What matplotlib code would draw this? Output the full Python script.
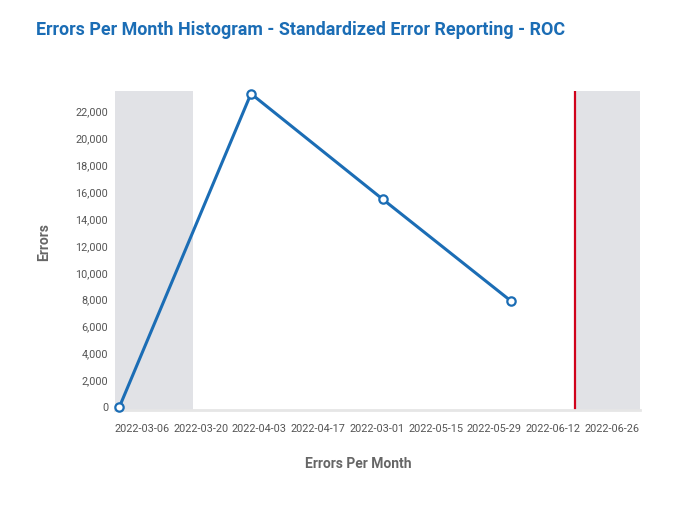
import matplotlib
matplotlib.use("Agg")
import matplotlib.pyplot as plt
import matplotlib.dates as mdates
from matplotlib.ticker import FuncFormatter
import numpy as np
from datetime import datetime

plt.rcParams['font.family'] = ['Roboto', 'DejaVu Sans']

# data (point dates as placed in the picture)
months = ["2022-02-28 14:00", "2022-04-01 00:00", "2022-05-02 10:00", "2022-06-02 00:00"]
errors = [0, 23300, 15460, 7900]

tick_dates = ["2022-03-06", "2022-03-20", "2022-04-03", "2022-04-17", "2022-05-01",
              "2022-05-15", "2022-05-29", "2022-06-12", "2022-06-26"]
tick_labels = ["2022-03-06", "2022-03-20", "2022-04-03", "2022-04-17", "2022-03-01",
               "2022-05-15", "2022-05-29", "2022-06-12", "2022-06-26"]

x_start = "2022-02-27 14:00"
x_end = "2022-07-02 18:00"
shade_left = ("2022-02-27 14:00", "2022-03-18 02:00")
shade_right = ("2022-06-17 05:00", "2022-07-02 18:00")
marker_date = "2022-06-17 05:00"

def d(s):
    return mdates.date2num(datetime.fromisoformat(s))

blue = "#1b6db5"
grey_txt = "#666666"

fig = plt.figure(figsize=(6.95, 5.09), dpi=100)
ax = fig.add_axes([115 / 695, 99 / 509, 525 / 695, 319 / 509])

ax.axvspan(d(shade_left[0]), d(shade_left[1]), color="#e1e2e6", lw=0, zorder=0)
ax.axvspan(d(shade_right[0]), d(shade_right[1]), color="#e1e2e6", lw=0, zorder=0)
ax.axvline(d(marker_date), color="#d0021b", lw=1.6, zorder=1)

xs = [d(m) for m in months]
ax.plot(xs, errors, color=blue, lw=2.2, marker="o", ms=6, mfc="white",
        mec=blue, mew=1.6, zorder=3, clip_on=False)

ax.set_xlim(d(x_start), d(x_end))
ax.set_ylim(-190, 23500)
ax.set_yticks(np.arange(0, 22001, 2000))
ax.yaxis.set_major_formatter(FuncFormatter(lambda v, p: f"{int(v):,}"))
ax.set_xticks([d(t) for t in tick_dates])
ax.set_xticklabels(tick_labels)

ax.tick_params(axis="both", length=0, labelsize=7.8, labelcolor="#555555")
ax.tick_params(axis="x", pad=10)
ax.tick_params(axis="y", pad=5)
for s in ["top", "right", "left"]:
    ax.spines[s].set_visible(False)
ax.spines["bottom"].set_color("#e6e6e6")
ax.spines["bottom"].set_linewidth(2)

fig.text(36 / 695, 1 - 30 / 509, "Errors Per Month Histogram - Standardized Error Reporting - ROC",
         fontsize=12.9, fontweight="bold", color=blue, va="center", ha="left")
fig.text(44 / 695, 1 - 242 / 509, "Errors", rotation=90, fontsize=10, fontweight="bold",
         color=grey_txt, va="center", ha="center")
fig.text(358 / 695, 1 - 464 / 509, "Errors Per Month", fontsize=10, fontweight="bold",
         color=grey_txt, va="center", ha="center")

fig.savefig("out.png", dpi=100)
